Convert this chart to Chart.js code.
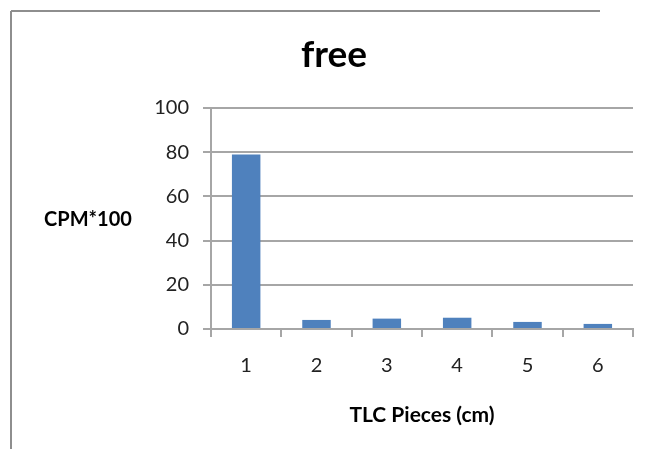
<!DOCTYPE html>
<html>
<head>
<meta charset="utf-8">
<title>free</title>
<script src="https://cdn.jsdelivr.net/npm/chart.js@4/dist/chart.umd.min.js"></script>
<style>
  html, body { margin: 0; padding: 0; background: #ffffff; overflow: hidden; }
  #wrap { width: 646px; height: 449px; position: relative; }
  canvas { display: block; }
</style>
</head>
<body>
<div id="wrap"><canvas id="c" width="646" height="449"></canvas></div>
<script>
// TLC piece positions (cm) and measured counts (CPM / 100)
const pieces = ['1', '2', '3', '4', '5', '6'];
const cpmValues = [79, 4.1, 4.7, 5.1, 3.2, 2.3];
const yTicks = [0, 20, 40, 60, 80, 100];

const chartTitle = 'free';
const yAxisLabel = 'CPM*100';
const xAxisLabel = 'TLC Pieces (cm)';

const FONT = 'Lato, "Open Sans", sans-serif';
const GRID = '#a6a6a6';

// Frame, heading and the horizontal y-axis caption
const decorations = {
  id: 'decorations',
  beforeDraw(chart) {
    const ctx = chart.ctx;
    ctx.save();
    ctx.fillStyle = '#ffffff';
    ctx.fillRect(0, 0, chart.width, chart.height);
    // outer frame: left and top edges
    ctx.strokeStyle = '#8e8e8e';
    ctx.lineWidth = 2;
    ctx.beginPath();
    ctx.moveTo(11, chart.height);
    ctx.lineTo(11, 11);
    ctx.stroke();
    ctx.beginPath();
    ctx.moveTo(11, 11);
    ctx.lineTo(chart.width - 46, 11);
    ctx.stroke();
    ctx.restore();
  },
  afterDraw(chart) {
    const ctx = chart.ctx;
    const area = chart.chartArea;
    ctx.save();
    ctx.fillStyle = '#000000';
    ctx.textAlign = 'center';
    ctx.textBaseline = 'alphabetic';
    ctx.font = 'bold 37px ' + FONT;
    ctx.fillText(chartTitle, area.left + 123, 67);
    ctx.font = 'bold 20px ' + FONT;
    ctx.textBaseline = 'middle';
    ctx.fillText(yAxisLabel, 88, (area.top + area.bottom) / 2 + 1);
    ctx.restore();
  }
};

new Chart(document.getElementById('c'), {
  type: 'bar',
  data: {
    labels: pieces,
    datasets: [{
      data: cpmValues,
      backgroundColor: '#4f81bd',
      borderWidth: 0,
      categoryPercentage: 1,
      barPercentage: 0.405
    }]
  },
  options: {
    responsive: false,
    animation: false,
    devicePixelRatio: 1,
    layout: { padding: { left: 0, top: 108, right: 13, bottom: 0 } },
    plugins: {
      legend: { display: false },
      title: { display: false },
      tooltip: { enabled: false }
    },
    scales: {
      x: {
        afterFit(scale) { scale.height = 120; },
        grid: {
          offset: true,
          drawOnChartArea: false,
          drawTicks: true,
          tickLength: 8,
          color: GRID,
          lineWidth: 2
        },
        border: { color: GRID, width: 2 },
        ticks: {
          color: '#222222',
          font: { family: FONT, size: 20 },
          padding: 17,
          maxRotation: 0
        },
        title: {
          display: true,
          text: xAxisLabel,
          color: '#000000',
          font: { family: FONT, size: 21, weight: 'bold' },
          padding: { top: 0, bottom: 21 }
        }
      },
      y: {
        min: 0,
        max: 100,
        afterFit(scale) { scale.width = 211; },
        afterBuildTicks(scale) { scale.ticks = yTicks.map(v => ({ value: v })); },
        grid: {
          color: GRID,
          lineWidth: 2,
          drawTicks: true,
          tickLength: 8
        },
        border: { color: GRID, width: 2 },
        ticks: {
          color: '#222222',
          font: { family: FONT, size: 20 },
          padding: 14
        }
      }
    }
  },
  plugins: [decorations]
});
</script>
</body>
</html>
